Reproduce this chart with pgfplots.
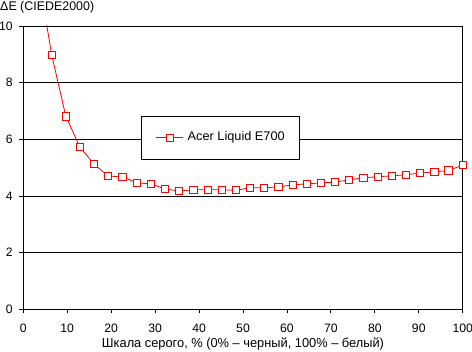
\documentclass[border=0pt]{standalone}
\usepackage{fontspec}
\setmainfont{Liberation Sans}
\usepackage{graphicx}
\usepackage{pgfplots}
\pgfplotsset{compat=1.18}
\begin{document}
\begin{tikzpicture}[font=\fontsize{12.5bp}{15bp}\selectfont]
\path[use as bounding box] (-23.3bp,-42.7bp) rectangle (448.7bp,309.3bp);
\begin{axis}[
  at={(0,0)}, anchor=south west,
  scale only axis, width=439.4bp, height=283.3bp,
  xmin=0, xmax=100, ymin=0, ymax=10,
  xtick={0,10,...,100}, ytick={0,2,...,10},
  tick pos=left, tick align=outside, major tick length=4bp,
  tick style={black, line width=0.8bp},
  ymajorgrids, major grid style={black, line width=0.8bp},
  axis line style={black, line width=0.8bp},
  /pgf/number format/assume math mode=true,
  ticklabel style={font=\fontsize{12.2bp}{14bp}\selectfont},
  xticklabel style={anchor=north, inner sep=0pt, yshift=-10.7bp},
  yticklabel style={anchor=east, inner sep=0pt, xshift=-6.4bp},
  legend style={at={(rel axis cs:0.2679,0.6830)}, anchor=north west,
    draw=black, line width=0.8bp, fill=white, inner xsep=14.5bp, inner ysep=0bp,
    minimum height=43bp,
    nodes={inner sep=0pt, text height=8.8bp, text depth=2.5bp},
    /tikz/column sep=4bp},
  legend image code/.code={\draw[mark repeat=2, mark phase=2] plot coordinates {(0bp,0bp)(13.5bp,0bp)(27bp,0bp)};},
]
\addplot[red, line width=0.8bp, mark=square*, mark size=3.6bp,
  mark options={fill=white, draw=red, line width=0.9bp}] coordinates {
(3.226,12.0) (6.452,8.99) (9.677,6.81) (12.903,5.72) (16.129,5.12)
(19.355,4.70) (22.581,4.68) (25.806,4.46) (29.032,4.43) (32.258,4.25)
(35.484,4.17) (38.710,4.22) (41.935,4.22) (45.161,4.22) (48.387,4.20)
(51.613,4.29) (54.839,4.29) (58.065,4.32) (61.290,4.39) (64.516,4.43)
(67.742,4.46) (70.968,4.49) (74.194,4.57) (77.419,4.64) (80.645,4.68)
(83.871,4.71) (87.097,4.75) (90.323,4.81) (93.548,4.85) (96.774,4.90)
(100,5.09)};
\addlegendentry{\resizebox{97bp}{\height}{Acer Liquid E700}}
\end{axis}
\node[anchor=base west, inner sep=0pt] at (-23.3bp,298.9bp) {\resizebox{94bp}{\height}{ΔE (CIEDE2000)}};
\node[anchor=base, inner sep=0pt] at (219.7bp,-37.7bp) {\resizebox{282bp}{\height}{\fontsize{13bp}{15bp}\selectfont Шкала серого, \% (0\% – черный, 100\% – белый)}};
\end{tikzpicture}
\end{document}
